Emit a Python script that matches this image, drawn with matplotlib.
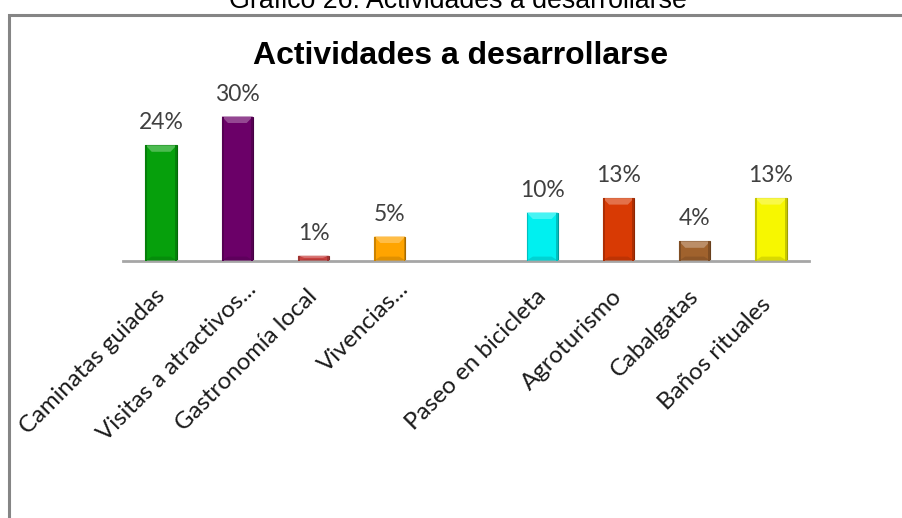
import matplotlib
matplotlib.use("Agg")
import matplotlib.pyplot as plt
import matplotlib.transforms as mtransforms
from matplotlib.patches import Polygon, Rectangle
from matplotlib.colors import to_rgb

# ---- data ----
categories = ["Caminatas guiadas", "Visitas a atractivos...", "Gastronomía local",
              "Vivencias...", "", "Paseo en bicicleta", "Agroturismo",
              "Cabalgatas", "Baños rituales"]
values = [24, 30, 1, 5, None, 10, 13, 4, 13]
value_labels = ["24%", "30%", "1%", "5%", "", "10%", "13%", "4%", "13%"]
bar_colors = ["#06A00C", "#6B0068", "#C8413F", "#FFA400", None,
              "#00F0F0", "#D83A04", "#A0622D", "#F7F700"]
caption = "Gráfico 26: Actividades a desarrollarse"
title = "Actividades a desarrollarse"

W, H = 903, 518
fig = plt.figure(figsize=(W / 100, H / 100), dpi=100)

# outer caption (partially cut off at the top, as in the source)
fig.text(458 / W, 1 - 7.5 / H, caption, ha="center", va="baseline",
         fontsize=19.3, family="Liberation Sans", color="black")

# frame of the chart area (extends beyond right/bottom edges)
frame = Rectangle((8.5 / W, -0.1), 1.2, 1 - 14.5 / H + 0.1,
                  transform=fig.transFigure, fill=False,
                  edgecolor="#858585", linewidth=2.2, clip_on=False)
fig.add_artist(frame)

fig.text(460.5 / W, 1 - 64 / H, title, ha="center", va="baseline",
         fontsize=23, family="Liberation Sans", fontweight="bold", color="black")

# axes
ax_left, ax_right = 123 / W, 809 / W
ax_bottom = (H - 260.5) / H
ymax = 35.0
px_per_unit = 4.8
ax_h = ymax * px_per_unit / H
ax = fig.add_axes([ax_left, ax_bottom, ax_right - ax_left, ax_h])
ax.set_xlim(-0.5, len(categories) - 0.5)
ax.set_ylim(0, ymax)
for s in ["top", "right", "left"]:
    ax.spines[s].set_visible(False)
ax.spines["bottom"].set_color("#A6A6A6")
ax.spines["bottom"].set_linewidth(2)
ax.set_yticks([])
ax.set_xticks([])

xs = list(range(len(categories)))
bw = 0.41


def shade(c, f):
    r, g, b = to_rgb(c)
    if f >= 0:
        return (r + (1 - r) * f, g + (1 - g) * f, b + (1 - b) * f)
    f = -f
    return (r * (1 - f), g * (1 - f), b * (1 - f))


for x, v, c, lab in zip(xs, values, bar_colors, value_labels):
    if v is None:
        continue
    ax.bar(x, v, width=bw, color=c, edgecolor=shade(c, -0.35), linewidth=0.8, zorder=2)
    # bevel highlights
    dx = bw * 0.2
    dy = min(6.5 / px_per_unit, v * 0.45)
    top = Polygon([(x - bw / 2, v), (x + bw / 2, v), (x + bw / 2 - dx, v - dy),
                   (x - bw / 2 + dx, v - dy)], closed=True,
                  facecolor=shade(c, 0.28), edgecolor="none", zorder=3)
    bot = Polygon([(x - bw / 2, 0), (x + bw / 2, 0), (x + bw / 2 - dx, dy * 0.6),
                   (x - bw / 2 + dx, dy * 0.6)], closed=True,
                  facecolor=shade(c, -0.12), edgecolor="none", zorder=3)
    ax.add_patch(top)
    ax.add_patch(bot)
    for sx in (-1, 1):
        side = Rectangle((x + sx * bw / 2 - (bw * 0.06 if sx > 0 else 0), 0), bw * 0.06, v,
                         facecolor=shade(c, -0.2), edgecolor="none", zorder=3)
        ax.add_patch(side)
    ax.annotate(lab, (x, v), xytext=(0, 11.5), textcoords="offset points",
                ha="center", va="baseline", fontsize=16.5, family="Lato",
                color="#404040", annotation_clip=False)

# rotated category labels (pixel nudges mimic the source layout)
for x, name in zip(xs, categories):
    if not name:
        continue
    ox, oy = 5, -37
    if name.endswith("..."):
        ox, oy = 20, -30
    elif "ñ" in name:
        ox, oy = 1, -45
    off = mtransforms.ScaledTranslation(ox / 100, oy / 100, fig.dpi_scale_trans)
    ax.text(x, 0, name, transform=ax.transData + off, rotation=45,
            rotation_mode="anchor", ha="right", va="baseline",
            fontsize=17.3, family="Lato", color="#1a1a1a", clip_on=False)

fig.savefig("out.png", dpi=100)
